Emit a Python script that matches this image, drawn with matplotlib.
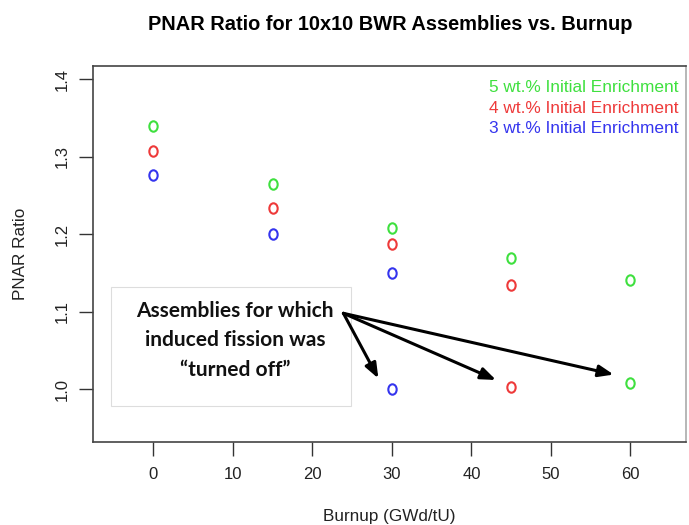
import matplotlib
matplotlib.use("Agg")
import matplotlib.pyplot as plt
from matplotlib.patches import Rectangle
from matplotlib.path import Path
from matplotlib.transforms import Affine2D

plt.rcParams['font.family'] = ['Liberation Sans', 'DejaVu Sans']

burnup = [0, 15, 30, 45, 60]
enr5 = [1.339, 1.265, 1.208, 1.169, 1.141]
enr4 = [1.307, 1.234, 1.187, 1.134]
enr3 = [1.277, 1.200, 1.150]
burnup4 = [0, 15, 30, 45]
burnup3 = [0, 15, 30]
off_burnup = [30, 45, 60]
off_ratio = [1.001, 1.003, 1.008]
off_colors = ['#3535ee', '#ee3a3a', '#3fe03f']

series_labels = ["5 wt.% Initial Enrichment", "4 wt.% Initial Enrichment", "3 wt.% Initial Enrichment"]
c5, c4, c3 = '#3fe03f', '#ee3a3a', '#3535ee'

xticks = [0, 10, 20, 30, 40, 50, 60]
yticks = [1.0, 1.1, 1.2, 1.3, 1.4]

fig = plt.figure(figsize=(6.89, 5.25), dpi=100)
ax = fig.add_axes([93/689, 83/525, (686-93)/689, (442-66)/525])

oval = Path.unit_circle().transformed(Affine2D().scale(0.8, 1.0))
mk = dict(marker=oval, linestyle='none', markersize=7.5, markerfacecolor='none', markeredgewidth=1.5)
ax.plot(burnup, enr5, color=c5, **mk)
ax.plot(burnup4, enr4, color=c4, **mk)
ax.plot(burnup3, enr3, color=c3, **mk)
for xb, yr, cc in zip(off_burnup, off_ratio, off_colors):
    ax.plot([xb], [yr], color=cc, **mk)

ax.set_xlim(-7.6, 67.0)
ax.set_ylim(0.932, 1.417)
ax.set_xticks(xticks)
ax.set_xticklabels([str(v) for v in xticks])
ax.set_yticks(yticks)
ax.set_yticklabels([f"{v:.1f}" for v in yticks], rotation=90, va='center')
ax.tick_params(axis='both', length=10, width=1, labelsize=12, color='#333333', labelcolor='#222222')
ax.tick_params(axis='x', pad=8)
ax.tick_params(axis='y', pad=7)
for s in ax.spines.values():
    s.set_color('#444444')
    s.set_linewidth(1.2)
ax.spines['right'].set_color('#aaaaaa')

ax.set_xlabel("Burnup (GWd/tU)", fontsize=12.3, color='#222222', va='center')
ax.xaxis.set_label_coords(0.5, (442-516)/376)
ax.set_ylabel("PNAR Ratio", fontsize=12.3, color='#222222', va='center')
ax.yaxis.set_label_coords((20-93)/593, 0.5)
fig.suptitle("PNAR Ratio for 10x10 BWR Assemblies vs. Burnup", x=390/689, y=1-24/525,
             fontsize=14.4, fontweight='bold', va='center')

# legend text
for i, (lab, cc) in enumerate(zip(series_labels, [c5, c4, c3])):
    ax.text(0.988, 0.942 - i*0.0545, lab, color=cc, fontsize=12.4, ha='right', va='center',
            transform=ax.transAxes)

# callout box
ax.add_patch(Rectangle((-5.3, 0.979), 30.1, 0.153, facecolor='white', edgecolor='#dddddd',
                       linewidth=0.8, zorder=3))
ax.text(10.3, 1.063, "Assemblies for which\ninduced fission was\n\u201cturned off\u201d",
        ha='center', va='center', fontsize=15, fontweight='bold', family=['Lato', 'DejaVu Sans'],
        linespacing=1.6, zorder=4, color='#111111')
origin = (23.9, 1.098)
tips = [(28.3, 1.014), (43.1, 1.012), (57.9, 1.019)]
for t in tips:
    ax.annotate("", xy=t, xytext=origin,
                arrowprops=dict(arrowstyle='-|>,head_length=0.9,head_width=0.35', color='black',
                                lw=2.2, shrinkA=0, shrinkB=0), zorder=5)

fig.savefig("out.png", dpi=100)
